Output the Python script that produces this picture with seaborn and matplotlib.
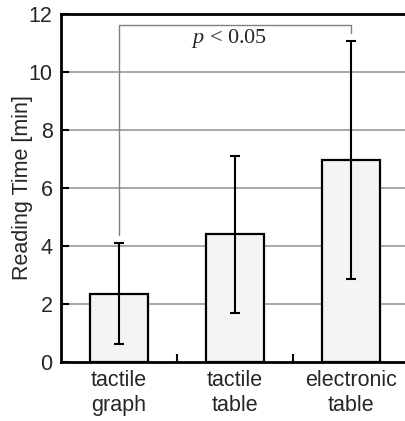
import matplotlib
matplotlib.use("Agg")
import matplotlib.pyplot as plt
import seaborn as sns
import pandas as pd
import numpy as np

categories = ["tactile\ngraph", "tactile\ntable", "electronic\ntable"]
means = [2.35, 4.40, 6.96]
errors = [1.74, 2.70, 4.10]
yticks = [0, 2, 4, 6, 8, 10, 12]
bracket_y_left = 4.38
bracket_y_top = 11.63
bracket_y_right = 11.34
p_label = "< 0.05"

sns.set_theme(style="white")
plt.rcParams["font.family"] = ["Liberation Sans", "DejaVu Sans"]
plt.rcParams["mathtext.fontset"] = "custom"
plt.rcParams["mathtext.it"] = "Liberation Serif:italic"
plt.rcParams["mathtext.rm"] = "Liberation Serif"

df = pd.DataFrame({"cat": categories, "mean": means})

fig = plt.figure(figsize=(4.06, 4.21), dpi=100)
ax = fig.add_axes([61/406, 1-362/421, 348/406, (362-14)/421])

for y in yticks[1:-1]:
    ax.axhline(y, color="#a0a0a0", lw=1.3, zorder=0)

sns.barplot(data=df, x="cat", y="mean", ax=ax, color="#f4f4f4",
            edgecolor="black", linewidth=1.6, width=0.5, errorbar=None,
            saturation=1, zorder=2)
xs = np.arange(len(categories))
ax.errorbar(xs, means, yerr=errors, fmt="none", ecolor="black",
            elinewidth=1.5, capsize=3.8, capthick=1.5, zorder=3)

ax.plot([xs[0], xs[0], xs[2], xs[2]],
        [bracket_y_left, bracket_y_top, bracket_y_top, bracket_y_right],
        color="#808080", lw=1.0, zorder=1)
ax.text(0.95, 11.17, r"$p$ " + p_label, ha="center", va="center",
        fontsize=16, family="Liberation Serif")

ax.set_xlim(-0.5, 2.5)
ax.set_ylim(0, 12)
ax.set_yticks(yticks)
ax.set_xlabel("")
ax.set_ylabel("Reading Time [min]", fontsize=15.5, labelpad=-3)
ax.tick_params(axis="y", direction="in", length=6, width=1.5, labelsize=15.5,
               left=True, pad=6, color="black")
ax.tick_params(axis="x", which="major", length=0, labelsize=15.5, pad=6)
ax.set_xticks([0.5, 1.5], minor=True)
ax.tick_params(axis="x", which="minor", direction="in", length=6, width=1.5,
               bottom=True, color="black")
for s in ["left", "bottom", "top"]:
    ax.spines[s].set_visible(True)
    ax.spines[s].set_color("black")
    ax.spines[s].set_linewidth(2)
ax.spines["right"].set_visible(False)
for lbl in ax.get_xticklabels():
    lbl.set_linespacing(1.25)

fig.savefig("out.png", dpi=100)
